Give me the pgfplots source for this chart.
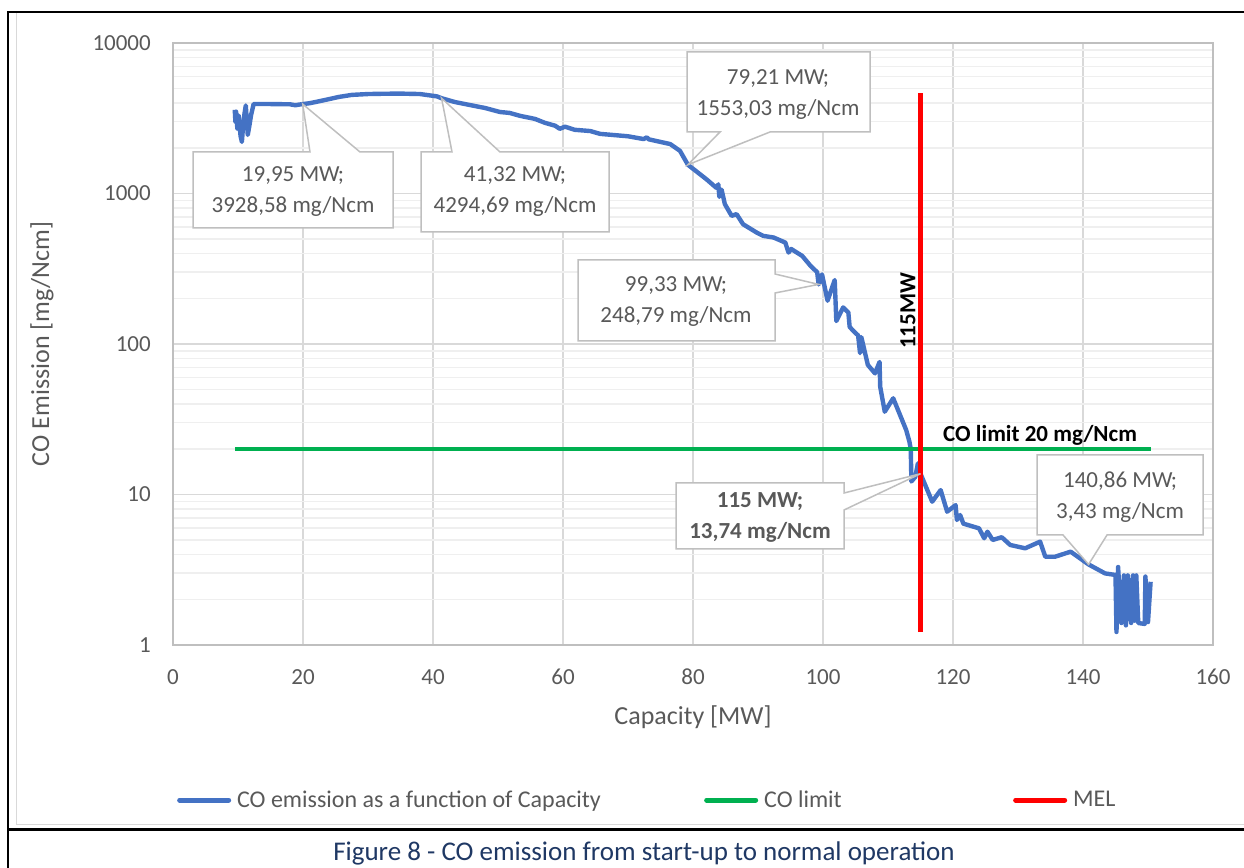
\documentclass[border=0pt]{standalone}
\usepackage{fontspec}
\setmainfont{Carlito}
\usepackage{pgfplots}
\pgfplotsset{compat=1.18}
\definecolor{cblue}{HTML}{4472C4}
\definecolor{cgreen}{HTML}{00B050}
\definecolor{cred}{HTML}{FF0000}
\definecolor{tgrey}{HTML}{595959}
\definecolor{gmaj}{HTML}{D9D9D9}
\definecolor{gmin}{HTML}{EFEFEF}
\definecolor{bgrey}{HTML}{BFBFBF}
\definecolor{capblue}{HTML}{1F3864}
\tikzset{callout/.style={draw=bgrey, line width=1.5pt, fill=white, line join=miter}}
\begin{document}
\begin{tikzpicture}
\begin{scope}[x=1pt,y=-1pt,yshift=867pt]
\path[use as bounding box] (0,0) rectangle (1244,867);
\draw[gmaj, line width=1.5pt] (16.5,13) -- (16.5,824.5) -- (1250,824.5);
\draw[black, line width=2pt] (8,870) -- (8,12) -- (1250,12);
\draw[black, line width=2.5pt] (8,829.5) -- (1250,829.5);
\end{scope}
\begin{axis}[
  at={(173pt,222pt)}, anchor=south west,
  scale only axis, width=1040pt, height=602pt,
  xmin=0, xmax=160, ymin=1, ymax=10000, ymode=log,
  xtick={0,20,...,160},
  ytick={1,10,100,1000,10000}, yticklabels={1,10,100,1000,10000},
  minor ytick={2,3,...,9,20,30,...,90,200,300,...,900,2000,3000,...,9000},
  grid=both,
  major grid style={draw=gmaj, line width=1.4pt},
  minor grid style={draw=gmin, line width=1.4pt},
  major tick length=0pt, minor tick length=0pt,
  tick style={draw=none},
  axis line style={draw=bgrey, line width=1.5pt},
  /pgf/number format/assume math mode=true,
  ticklabel style={font=\fontsize{23}{27}\selectfont, text=tgrey},
  yticklabel style={anchor=east, inner sep=0pt, xshift=-22pt},
  xticklabel style={anchor=north, inner sep=0pt, yshift=-24pt},
  xlabel={Capacity [MW]}, ylabel={CO Emission [mg/Ncm]},
  label style={font=\fontsize{26}{30}\selectfont, text=tgrey, inner sep=0pt},
  xlabel style={at={(axis description cs:0.5,-0.1196)}, anchor=center},
  ylabel style={at={(axis description cs:-0.126,0.5)}, anchor=center},
  legend columns=3,
  legend style={at={(axis description cs:0.0038,-0.2575)}, anchor=west,
    draw=none, fill=none, inner sep=0pt,
    font=\fontsize{24}{28}\selectfont, text=tgrey,
    nodes={inner sep=0pt},
    /tikz/every odd column/.style={column sep=6pt},
    /tikz/every even column/.style={column sep=0pt}},
  legend image code/.code={\draw[#1, line width=5pt, line cap=round] (0pt,0pt) -- (49pt,0pt);},
]
\addplot[cblue, line width=4.4pt, line join=round] coordinates {
(9.5,3600) (9.6,3000) (9.7,3500) (9.9,2700) (10.1,3300) (10.4,2400) (10.6,2200)
(10.8,2900) (11.0,3400) (11.2,3850) (11.5,2450) (11.8,2900) (12.0,3300) (12.4,3930)
(14,3935) (16,3925) (18,3915) (18.8,3860) (19.95,3928.58) (21,3980) (22,4060)
(23.6,4200) (25.5,4380) (27.5,4520) (30,4580) (32.4,4600) (35,4610) (38,4580)
(40.6,4420) (41.32,4294.69) (43.4,4050) (45.7,3870) (48,3700) (50.3,3480) (51.8,3430)
(53.4,3280) (55.7,3130) (57.2,2950) (58.8,2820) (59.5,2690) (60.3,2780) (61.8,2650)
(64.2,2600) (65.7,2490) (70,2400) (72.4,2300) (72.9,2360) (73.2,2290) (76.5,2130)
(78,1920) (79.21,1553.03) (82.1,1240) (83.6,1090) (83.9,1150) (84.05,950) (84.4,1060)
(84.9,850) (85.95,710) (86.7,730) (87.7,625) (89.8,550) (90.8,523) (92.4,510)
(94.2,472) (94.7,405) (95.1,428) (96.8,385) (98.1,330) (99.1,300) (99.33,248.79)
(99.85,290) (100.7,194) (101.8,266) (102.05,142) (103.1,175) (103.9,162) (104.1,130)
(104.6,123) (105.4,114) (105.7,87) (105.9,111) (106.9,72.6) (108.0,63.8) (108.7,76)
(108.8,52) (109.5,35.5) (110.8,43.6) (112.8,26.8) (113.3,22.4) (113.5,20) (113.6,12.2)
(114.2,13.1) (114.6,16.1) (115,13.74) (116.8,8.96) (118.1,10.7) (119.1,7.69) (120.4,8.5)
(120.6,6.77) (121.1,7.3) (121.6,6.4) (124.0,5.96) (124.8,5.12) (125.3,5.66) (126.1,4.99)
(127.5,5.2) (128.8,4.62) (131.1,4.39) (133.4,4.86) (134.2,3.86) (135.7,3.86) (138.1,4.17)
(140.86,3.43) (143.4,2.99) (145.0,2.92) (145.15,1.22) (145.4,3.3) (145.9,1.4) (146.3,2.9)
(146.6,1.35) (146.9,2.9) (147.4,1.4) (147.7,2.9) (147.95,1.45) (148.2,2.9) (148.5,1.4)
(149.5,1.38) (149.6,2.85) (150.0,1.42) (150.4,2.63)
};
\addlegendentry{\makebox[467pt][l]{CO emission as a function of Capacity}}
\addplot[cgreen, line width=4.2pt] coordinates {(9.5,20) (150.5,20)};
\addlegendentry{\makebox[249pt][l]{CO limit}}
\addplot[cred, line width=4.2pt] coordinates {(115,1.22) (115,4650)};
\addlegendentry{MEL}
\coordinate (a1) at (axis cs:19.95,3928.58);
\coordinate (a2) at (axis cs:41.32,4294.69);
\coordinate (a3) at (axis cs:79.21,1553.03);
\coordinate (a4) at (axis cs:99.33,248.79);
\coordinate (a5) at (axis cs:115,13.74);
\coordinate (a6) at (axis cs:140.86,3.43);
\end{axis}
\begin{scope}[x=1pt,y=-1pt,yshift=867pt]
\filldraw[callout] (193,152) -- (310,152) -- (a1) -- (360,152) -- (393,152) -- (393,228) -- (193,228) -- cycle;
\filldraw[callout] (421,152) -- (452,152) -- (a2) -- (500,152) -- (609,152) -- (609,232) -- (421,232) -- cycle;
\filldraw[callout] (687,52) -- (870,52) -- (870,132) -- (770,132) -- (a3) -- (720,132) -- (687,132) -- cycle;
\filldraw[callout] (578,260) -- (775,260) -- (775,274) -- (a4) -- (775,293) -- (775,341) -- (578,341) -- cycle;
\filldraw[callout] (676,483) -- (844,483) -- (844,493) -- (a5) -- (844,510) -- (844,549) -- (676,549) -- cycle;
\filldraw[callout] (1037,455) -- (1203,455) -- (1203,535) -- (1107,535) -- (a6) -- (1063,535) -- (1037,535) -- cycle;
\begin{scope}[every node/.style={text=tgrey, align=center, inner sep=0pt, font=\fontsize{23}{31}\selectfont}]
\node at (293,191.5) {19,95 MW;\\3928,58 mg/Ncm};
\node at (515,191.5) {41,32 MW;\\4294,69 mg/Ncm};
\node at (778,94.5) {79,21 MW;\\1553,03 mg/Ncm};
\node at (676,301.5) {99,33 MW;\\248,79 mg/Ncm};
\node[font=\bfseries\fontsize{23}{31}\selectfont] at (760,517.5) {115 MW;\\13,74 mg/Ncm};
\node at (1120,497) {140,86 MW;\\3,43 mg/Ncm};
\end{scope}
\node[rotate=90, inner sep=0pt, font=\bfseries\fontsize{23}{27}\selectfont] at (908,311) {115MW};
\node[anchor=base west, inner sep=0pt, font=\bfseries\fontsize{23}{27}\selectfont] at (943,442) {CO limit 20 mg/Ncm};
\node[text=capblue, inner sep=0pt, font=\fontsize{27}{31}\selectfont] at (644,853) {Figure 8 - CO emission from start-up to normal operation};
\end{scope}
\end{tikzpicture}
\end{document}
